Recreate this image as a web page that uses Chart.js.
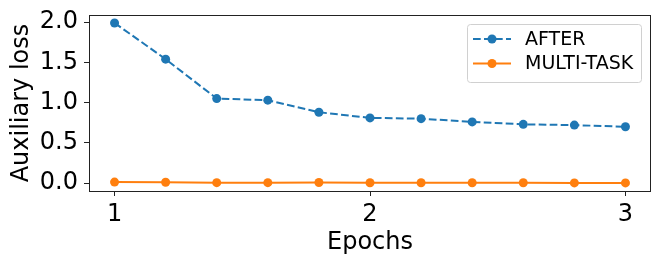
<!DOCTYPE html>
<html>
<head>
<meta charset="utf-8">
<script src="https://cdn.jsdelivr.net/npm/chart.js@4"></script>
<style>
  html, body { margin: 0; padding: 0; background: #fff; }
  #wrap { width: 665px; height: 265px; }
</style>
</head>
<body>
<div id="wrap"><canvas id="loss-chart"></canvas></div>
<script>
// values
const epochs = [1, 1.2, 1.4, 1.6, 1.8, 2, 2.2, 2.4, 2.6, 2.8, 3];
const afterLoss = [1.99, 1.54, 1.05, 1.03, 0.88, 0.81, 0.80, 0.76, 0.73, 0.72, 0.70];
const multiTaskLoss = [0.012, 0.010, 0.005, 0.005, 0.007, 0.004, 0.004, 0.003, 0.003, 0.002, 0.002];
const xTicks = [1, 2, 3];
const yTicks = [0, 0.5, 1.0, 1.5, 2.0];
const seriesLabels = ['AFTER', 'MULTI-TASK'];

const font = 'DejaVu Sans';
const blue = '#1f77b4';
const orange = '#ff7f0e';

// frame around the plot area, like matplotlib spines
const framePlugin = {
  id: 'frame',
  afterDraw(chart) {
    const { ctx, chartArea: a } = chart;
    ctx.save();
    ctx.strokeStyle = '#222';
    ctx.lineWidth = 1;
    ctx.strokeRect(a.left + 0.5, a.top + 0.5, a.right - a.left - 1, a.bottom - a.top);
    ctx.restore();
  }
};

// legend box in upper right corner of the plot
const legendPlugin = {
  id: 'boxLegend',
  afterDraw(chart) {
    const { ctx, chartArea: a } = chart;
    const boxW = 174, boxH = 58;
    const x0 = a.right - 10 - boxW, y0 = a.top + 9;
    ctx.save();
    ctx.beginPath();
    ctx.roundRect(x0 + 0.5, y0 + 0.5, boxW, boxH, 3);
    ctx.fillStyle = 'rgba(255,255,255,0.8)';
    ctx.fill();
    ctx.strokeStyle = '#d0d0d0';
    ctx.lineWidth = 1;
    ctx.stroke();

    chart.data.datasets.forEach((ds, i) => {
      const cy = y0 + 15 + i * 24.5;
      ctx.strokeStyle = ds.borderColor;
      ctx.lineWidth = ds.borderWidth;
      ctx.setLineDash(ds.borderDash || []);
      ctx.beginPath();
      ctx.moveTo(x0 + 6, cy);
      ctx.lineTo(x0 + 44, cy);
      ctx.stroke();
      ctx.setLineDash([]);
      ctx.fillStyle = ds.borderColor;
      ctx.beginPath();
      ctx.arc(x0 + 25, cy, ds.pointRadius, 0, Math.PI * 2);
      ctx.fill();
      ctx.fillStyle = '#000';
      ctx.font = '19px "' + font + '"';
      ctx.textBaseline = 'middle';
      ctx.fillText(ds.label, x0 + 58, cy + 1);
    });
    ctx.restore();
  }
};

const toPoints = (ys) => epochs.map((x, i) => ({ x: x, y: ys[i] }));

const ctx = document.getElementById('loss-chart').getContext('2d');
const lossChart = new Chart(ctx, {
  type: 'scatter',
  data: {
    datasets: [
      {
        label: seriesLabels[0],
        data: toPoints(afterLoss),
        showLine: true,
        borderColor: blue,
        backgroundColor: blue,
        borderWidth: 2,
        borderDash: [7.7, 3.3],
        pointRadius: 4.5,
        pointBorderWidth: 0
      },
      {
        label: seriesLabels[1],
        data: toPoints(multiTaskLoss),
        showLine: true,
        borderColor: orange,
        backgroundColor: orange,
        borderWidth: 2,
        pointRadius: 4.5,
        pointBorderWidth: 0
      }
    ]
  },
  options: {
    responsive: true,
    maintainAspectRatio: false,
    animation: false,
    layout: { padding: { top: 15, right: 14, bottom: 0, left: 0 } },
    plugins: {
      legend: { display: false },
      tooltip: { enabled: false }
    },
    scales: {
      x: {
        type: 'linear',
        min: 0.9,
        max: 3.1,
        afterBuildTicks: (scale) => { scale.ticks = xTicks.map(v => ({ value: v })); },
        afterFit: (scale) => { scale.height = 74; },
        grid: { display: true, drawOnChartArea: false, drawTicks: true, tickLength: 5, color: '#222' },
        border: { display: false },
        ticks: {
          color: '#000',
          padding: 4,
          maxRotation: 0,
          font: { family: font, size: 24 },
          callback: (v) => String(v)
        },
        title: {
          display: true,
          text: 'Epochs',
          color: '#000',
          font: { family: font, size: 24, lineHeight: 1 },
          padding: { top: 0, bottom: 10 }
        }
      },
      y: {
        type: 'linear',
        min: -0.099,
        max: 2.089,
        afterBuildTicks: (scale) => { scale.ticks = yTicks.map(v => ({ value: v })); },
        afterFit: (scale) => { scale.width = 89; },
        grid: { display: true, drawOnChartArea: false, drawTicks: true, tickLength: 5, color: '#222' },
        border: { display: false },
        ticks: {
          color: '#000',
          padding: 6,
          font: { family: font, size: 24, lineHeight: 0.5 },
          callback: (v) => Number(v).toFixed(1)
        },
        title: {
          display: true,
          text: 'Auxiliary loss',
          color: '#000',
          font: { family: font, size: 24, lineHeight: 1 },
          padding: { top: 10, bottom: 0 }
        }
      }
    }
  },
  plugins: [framePlugin, legendPlugin]
});
</script>
</body>
</html>
